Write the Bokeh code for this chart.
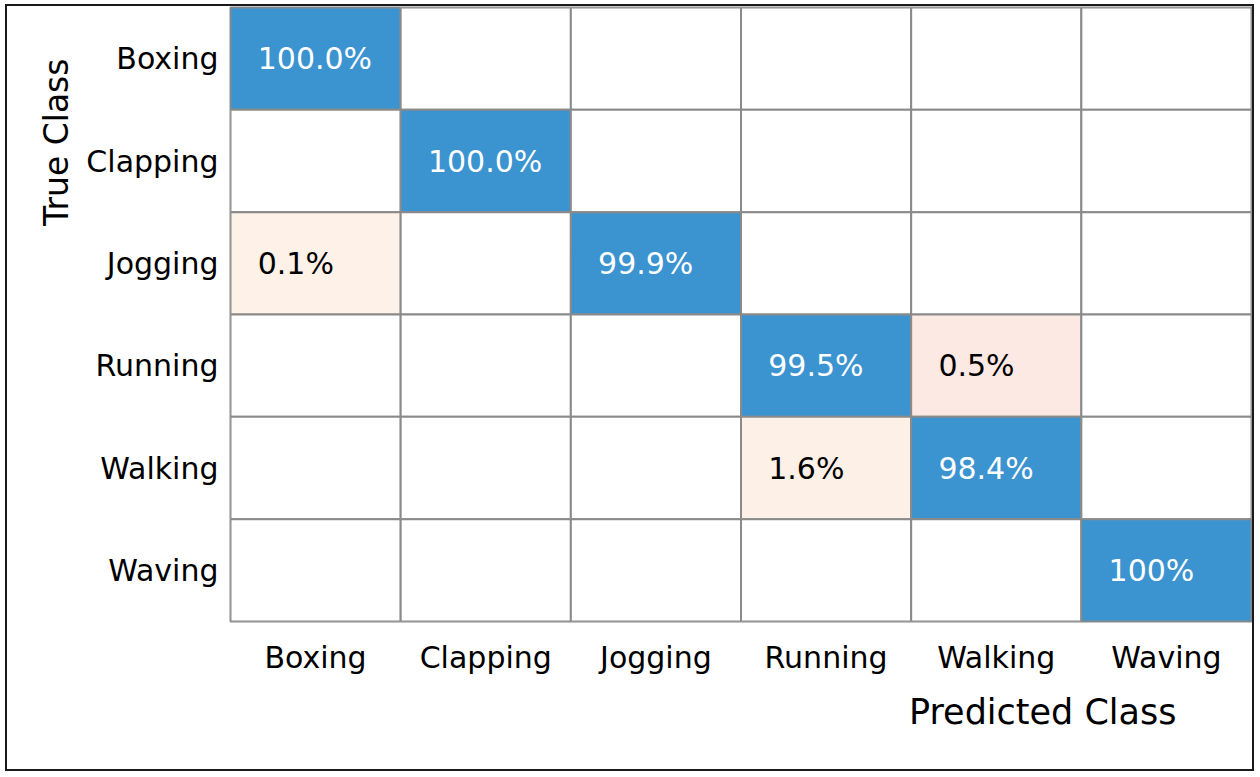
from bokeh.plotting import figure
from bokeh.models import Range1d, FixedTicker, ColumnDataSource, Title
from bokeh.core.properties import value
from bokeh.embed import file_html
from bokeh.resources import INLINE

classes = ["Boxing", "Clapping", "Jogging", "Running", "Walking", "Waving"]
values = [
    [100.0, 0, 0, 0, 0, 0],
    [0, 100.0, 0, 0, 0, 0],
    [0.1, 0, 99.9, 0, 0, 0],
    [0, 0, 0, 99.5, 0.5, 0],
    [0, 0, 0, 1.6, 98.4, 0],
    [0, 0, 0, 0, 0, 100.0],
]
cell_labels = [
    ["100.0%", "", "", "", "", ""],
    ["", "100.0%", "", "", "", ""],
    ["0.1%", "", "99.9%", "", "", ""],
    ["", "", "", "99.5%", "0.5%", ""],
    ["", "", "", "1.6%", "98.4%", ""],
    ["", "", "", "", "", "100%"],
]
x_title = "Predicted Class"
y_title = "True Class"

BLUE = "#3b93d0"
LIGHT = {0.1: "#fdf1e8", 0.5: "#fce9e3", 1.6: "#fdf0e7"}
GRIDC = "#8a8a8a"
FONT = "DejaVu Sans"

xs, ys, fills, txt, tcol = [], [], [], [], []
for i, row in enumerate(values):
    for j, v in enumerate(row):
        xs.append(j)
        ys.append(i)
        if v == 0:
            fills.append("#ffffff")
        elif i == j:
            fills.append(BLUE)
        else:
            fills.append(LIGHT.get(v, "#fdeee6"))
        txt.append(cell_labels[i][j])
        tcol.append("#ffffff" if (i == j and v > 0) else "#000000")

src = ColumnDataSource(dict(x=xs, y=ys, fill=fills, text=txt, tcol=tcol,
                            tx=[x - 0.34 for x in xs]))

p = figure(width=1245, height=763, output_backend="svg", toolbar_location=None,
           x_range=Range1d(-0.5, 5.5), y_range=Range1d(5.5, -0.5),
           min_border_left=223, min_border_right=1, min_border_top=1,
           min_border_bottom=148)
p.margin = (6, 0, 0, 7)
p.rect(x="x", y="y", width=1, height=1, source=src, fill_color="fill",
       line_color=GRIDC, line_width=2)
p.text(x="tx", y="y", text="text", source=src, text_color="tcol",
       text_font=value(FONT), text_font_size="30px",
       text_align="left", text_baseline="middle")

p.grid.visible = False
p.outline_line_color = GRIDC
p.outline_line_width = 2
p.background_fill_color = "white"
p.border_fill_color = "white"

for ax in (p.xaxis[0], p.yaxis[0]):
    ax.ticker = FixedTicker(ticks=list(range(6)))
    ax.major_label_overrides = {k: c for k, c in enumerate(classes)}
    ax.axis_line_color = None
    ax.major_tick_line_color = None
    ax.minor_tick_line_color = None
    ax.major_tick_out = 0
    ax.major_tick_in = 0
    ax.major_label_text_font = FONT
    ax.major_label_text_font_size = "30px"
    ax.major_label_text_color = "#000000"
p.xaxis.major_label_standoff = 18
p.yaxis.major_label_standoff = 12

p.add_layout(Title(text=y_title, align="right", offset=51, standoff=15,
                   text_font=FONT, text_font_size="33px",
                   text_font_style="normal", text_color="#000000"), "left")
p.add_layout(Title(text=x_title, align="right", offset=75, standoff=25,
                   text_font=FONT, text_font_size="35px",
                   text_font_style="normal", text_color="#000000"), "below")

p.styles = {"outline": "2px solid #1a1a1a", "outline-offset": "0px"}

open("out.html", "w").write(file_html(p, INLINE))
